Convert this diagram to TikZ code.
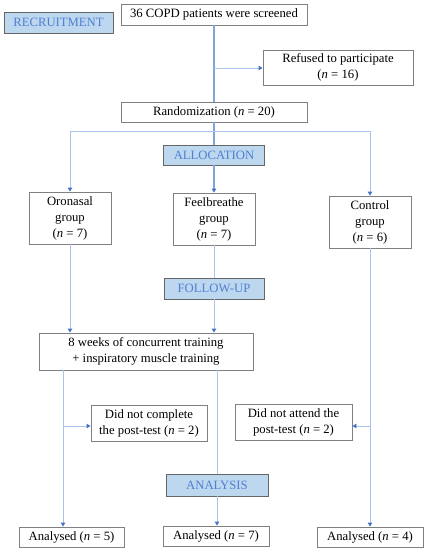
\documentclass[tikz,border=0pt]{standalone}
\usepackage{fontspec}
\setmainfont{Liberation Serif}
\usetikzlibrary{arrows.meta}
\definecolor{boxgray}{HTML}{808080}
\definecolor{lblfill}{HTML}{BDD7EE}
\definecolor{lbltext}{HTML}{4F7FD4}
\definecolor{thickblue}{HTML}{7EA5E2}
\definecolor{thinblue}{HTML}{A8C3EE}
\definecolor{tipblue}{HTML}{4472C4}
\begin{document}
\begin{tikzpicture}[x=1pt,y=-1pt,
  font=\fontsize{12.7}{16}\selectfont,
  box/.style={draw=boxgray,line width=0.9pt,fill=white,inner sep=0pt,align=center},
  lbl/.style={draw=boxgray!80!black,line width=0.9pt,fill=lblfill,text=lbltext,inner sep=0pt,align=center},
  thin/.style={draw=thinblue,line width=0.9pt},
  thick/.style={draw=thickblue,line width=2pt},
  tip/.style={-{Triangle[width=4.5pt,length=4pt,color=tipblue]}}
]
\useasboundingbox (0,0) rectangle (426,550);
% boxes
\node[lbl,minimum width=109pt,minimum height=21pt] (rec) at (58.5,22.5) {RECRUITMENT};
\node[box,minimum width=186pt,minimum height=21pt] (scr) at (214,14.5) {36 COPD patients were screened};
\node[box,minimum width=150pt,minimum height=35pt] (ref) at (338,67.5) {Refused to participate\\(\textit{n} = 16)};
\node[box,minimum width=186pt,minimum height=20pt] (rand) at (214,112) {Randomization (\textit{n} = 20)};
\node[lbl,minimum width=101pt,minimum height=20pt] (alloc) at (214,155) {ALLOCATION};
\node[box,minimum width=82pt,minimum height=52pt] (oro) at (70,218) {Oronasal\\group\\(\textit{n} = 7)};
\node[box,minimum width=82pt,minimum height=52pt] (feel) at (214,219) {Feelbreathe\\group\\(\textit{n} = 7)};
\node[box,minimum width=82pt,minimum height=52pt] (ctrl) at (370,222) {Control\\group\\(\textit{n} = 6)};
\node[lbl,minimum width=100pt,minimum height=21pt] (fol) at (214,288.5) {FOLLOW-UP};
\node[box,minimum width=214pt,minimum height=37pt] (train) at (146,351.5) {8 weeks of concurrent training\\+ inspiratory muscle training};
\node[box,minimum width=116pt,minimum height=36pt] (dnc) at (149,423) {Did not complete\\the post-test (\textit{n} = 2)};
\node[box,minimum width=117pt,minimum height=36pt] (dna) at (293.5,422) {Did not attend the\\post-test (\textit{n} = 2)};
\node[lbl,minimum width=102pt,minimum height=22pt] (ana) at (217,485) {ANALYSIS};
\node[box,minimum width=105pt,minimum height=20pt] (a5) at (71.5,537) {Analysed (\textit{n} = 5)};
\node[box,minimum width=106pt,minimum height=20pt] (a7) at (216,536) {Analysed (\textit{n} = 7)};
\node[box,minimum width=106pt,minimum height=20pt] (a4) at (370,537) {Analysed (\textit{n} = 4)};
% coordinates
\coordinate (rb) at (214,68);
\coordinate (split) at (214,131);
\coordinate (sl) at (70,131);
\coordinate (sr) at (370,131);
\coordinate (lb) at (63,426);
\coordinate (rbr) at (370,426);
% connectors
\draw[thick] (scr.south) -- (rand.north);
\draw[thin,tip] (rb) -- (ref.west |- rb);
\draw[thick] (rand.south) -- (alloc.north);
\draw[thick,tip] (alloc.south) -- (feel.north);
\draw[thin,tip] (split) -- (sl) -- (oro.north);
\draw[thin,tip] (split) -- (sr) -- (ctrl.north);
\draw[thin,tip] (oro.south) -- (oro.south |- train.north);
\draw[thin] (feel.south) -- (fol.north);
\draw[thin,tip] (fol.south) -- (fol.south |- train.north);
\draw[thin,tip] (lb |- train.south) -- (lb |- a5.north);
\draw[thin,tip] (lb) -- (dnc.west |- lb);
\draw[thin] (217,370) -- (ana.north);
\draw[thin,tip] (ana.south) -- (ana.south |- a7.north);
\draw[thin,tip] (ctrl.south) -- (ctrl.south |- a4.north);
\draw[thin,tip] (rbr) -- (dna.east |- rbr);
\end{tikzpicture}
\end{document}
